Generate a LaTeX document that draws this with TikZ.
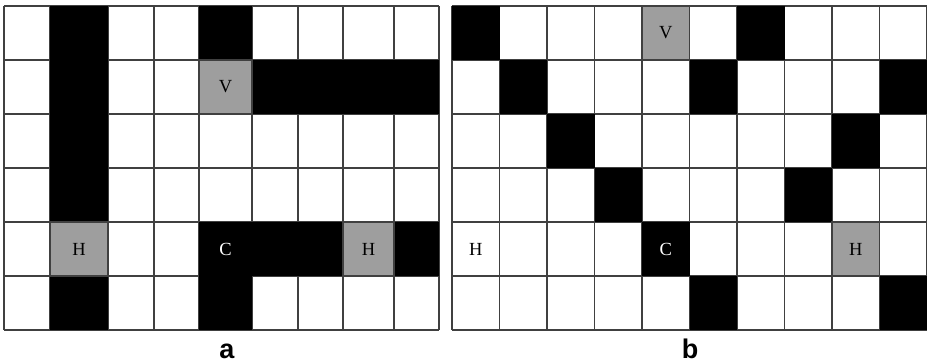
\documentclass[tikz,border=0pt]{standalone}
\usepackage{fontspec}
\setmainfont{Liberation Serif}
\newfontfamily\capfont{Liberation Sans}
\tikzset{
  gridline/.style={draw=black!75,line width=1.3pt},
  blackcell/.style={fill=black},
  graycell/.style={fill=black!38,draw=black!75,line width=1.3pt},
  atom/.style={font=\fontsize{18.5}{18.5}\selectfont},
  caption/.style={font=\capfont\bfseries\fontsize{27}{27}\selectfont,anchor=base,inner sep=0pt}
}
\begin{document}
\begin{tikzpicture}[x=1pt,y=-1pt]
    \useasboundingbox[fill=white](0,0)rectangle(927,364);
    % grid a
    \foreach \x in {4,50,108,154,199,252,298,343,394,439}
        \draw[gridline](\x,6)--(\x,330);
    \foreach \y in {6,60,114,168,222,276,330}
        \draw[gridline](4,\y)--(439,\y);
    \fill[blackcell](50,6)rectangle(108,330);
    \fill[blackcell](199,6)rectangle(252,60);
    \fill[blackcell](252,60)rectangle(439,114);
    \fill[blackcell](199,222)rectangle(439,276);
    \fill[blackcell](199,276)rectangle(252,330);
    \draw[graycell](199,60)rectangle(252,114);
    \draw[graycell](50,222)rectangle(108,276);
    \draw[graycell](343,222)rectangle(394,276);
    \node[atom](vA)at(225.5,87){V};
    \node[atom](hA1)at(79,249){H};
    \node[atom,text=white](cA)at(225.5,249){C};
    \node[atom](hA2)at(368.5,249){H};
    \node[caption](capA)at(227,358){a};
    % grid b
    \foreach \c in {0,...,10}
        \draw[gridline](452+47.5*\c,6)--(452+47.5*\c,330);
    \foreach \y in {6,60,114,168,222,276,330}
        \draw[gridline](452,\y)--(927,\y);
    \foreach \c/\r in {0/0,6/0,1/1,5/1,9/1,2/2,8/2,3/3,7/3,4/4,5/5,9/5}
        \fill[blackcell](452+47.5*\c,6+54*\r)rectangle++(47.5,54);
    \draw[graycell](642,6)rectangle++(47.5,54);
    \draw[graycell](832,222)rectangle++(47.5,54);
    \node[atom](vB)at(665.75,33){V};
    \node[atom](hB1)at(475.75,249){H};
    \node[atom,text=white](cB)at(665.75,249){C};
    \node[atom](hB2)at(855.75,249){H};
    \node[caption](capB)at(690,358){b};
\end{tikzpicture}
\end{document}
